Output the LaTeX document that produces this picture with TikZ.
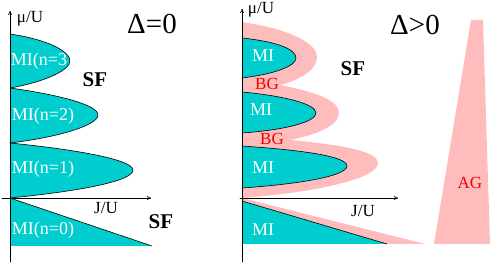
\documentclass[tikz,border=0pt]{standalone}
\usepackage{fontspec}
\setmainfont{Liberation Serif}
\usetikzlibrary{arrows.meta}
\definecolor{mottcyan}{RGB}{0,206,206}
\definecolor{glasspink}{RGB}{255,188,188}
\definecolor{labelred}{RGB}{240,0,0}
\tikzset{
  axis/.style={line width=0.6pt, -{To[length=4pt,width=4pt]}},
  lobe/.style={fill=mottcyan, draw=black, line width=0.6pt},
  milabel/.style={text=white, font=\fontsize{18}{20}\selectfont},
  glasslabel/.style={text=labelred, font=\fontsize{17}{19}\selectfont},
  sflabel/.style={font=\bfseries\fontsize{21}{23}\selectfont},
  axislabel/.style={font=\fontsize{17}{19}\selectfont},
  titlelabel/.style={font=\fontsize{29}{31}\selectfont},
}
\begin{document}
\begin{tikzpicture}[x=1pt, y=-1pt, line cap=round, line join=round]
  \useasboundingbox (0,0) rectangle (491,264);
  % --- left panel axes ---
  \coordinate (L-ybot) at (10,262);
  \coordinate (L-ytop) at (10,11);
  \coordinate (L-xleft) at (2,198);
  \coordinate (L-xright) at (151,198);
  % --- right panel axes ---
  \coordinate (R-ybot) at (242,262);
  \coordinate (R-ytop) at (242,9);
  \coordinate (R-xleft) at (240,198);
  \coordinate (R-xright) at (398,198);

  % === left panel: Mott lobes, Delta=0 ===
  \fill[mottcyan] (10,198) -- (152,246) -- (10,246) -- cycle;
  \draw[line width=0.6pt] (10,198) -- (152,246);
  \draw[lobe] (10,34) .. controls (50,40) and (70,52) .. (70,61)
              .. controls (70,70) and (45,82) .. (10,88);
  \draw[lobe] (10,88) .. controls (60,95) and (98,105) .. (98,115)
              .. controls (98,125) and (60,137) .. (10,143);
  \draw[lobe] (10,143) .. controls (80,150) and (133,160) .. (133,170)
              .. controls (133,180) and (90,190) .. (10,198);
  \draw[axis] (L-ybot) -- (L-ytop);
  \draw[axis] (L-xleft) -- (L-xright);

  \node[milabel] (L-mi3) at (42,61) {MI(n=3)};
  \node[milabel] (L-mi2) at (43,116) {MI(n=2)};
  \node[milabel] (L-mi1) at (43,169) {MI(n=1)};
  \node[milabel] (L-mi0) at (43,230) {MI(n=0)};
  \node[sflabel] (L-sf1) at (95,80) {SF};
  \node[sflabel] (L-sf2) at (161,222) {SF};
  \node[titlelabel] (L-title) at (152,24) {Δ=0};
  \node[axislabel] (L-mu) at (30,19) {μ/U};
  \node[axislabel] (L-j) at (106,208) {J/U};

  % === right panel: glass phases, Delta>0 ===
  \fill[glasspink] (242,22) .. controls (295,30) and (317,45) .. (317,57)
      .. controls (317,70) and (300,80) .. (280,85)
      .. controls (315,92) and (339,100) .. (339,113)
      .. controls (339,126) and (315,135) .. (290,140)
      .. controls (345,145) and (378,152) .. (378,163)
      .. controls (378,178) and (320,192) .. (242,198) -- cycle;
  \fill[glasspink] (242,198) -- (425,244) -- (242,244) -- cycle;
  \fill[glasspink] (471,20) -- (483,20) -- (490,244) -- (434,244) -- cycle;
  \fill[mottcyan] (242,201) -- (387,244) -- (242,244) -- cycle;
  \draw[line width=0.6pt] (242,201) -- (387,244);
  \draw[lobe] (242,38) .. controls (280,42) and (296,50) .. (296,58)
              .. controls (296,66) and (275,74) .. (242,78);
  \draw[lobe] (242,92) .. controls (285,96) and (316,104) .. (316,113)
              .. controls (316,122) and (285,130) .. (242,133);
  \draw[lobe] (242,146) .. controls (300,150) and (347,156) .. (347,166)
              .. controls (347,176) and (300,184) .. (242,188);
  \draw[axis] (R-ybot) -- (R-ytop);
  \draw[axis] (R-xleft) -- (R-xright);

  \node[milabel] (R-mi3) at (263,56) {MI};
  \node[milabel] (R-mi2) at (261,110) {MI};
  \node[milabel] (R-mi1) at (263,168) {MI};
  \node[milabel] (R-mi0) at (263,230) {MI};
  \node[glasslabel] (R-bg1) at (267,84) {BG};
  \node[glasslabel] (R-bg2) at (272,139) {BG};
  \node[glasslabel] (R-ag) at (470,183) {AG};
  \node[sflabel] (R-sf) at (353,69) {SF};
  \node[titlelabel] (R-title) at (415,25) {Δ>0};
  \node[axislabel] (R-mu) at (261,10) {μ/U};
  \node[axislabel] (R-j) at (363,211) {J/U};
\end{tikzpicture}
\end{document}
